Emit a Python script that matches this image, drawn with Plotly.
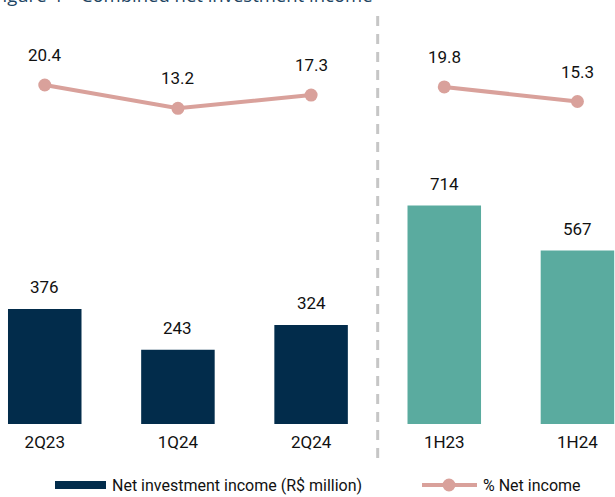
import plotly.graph_objects as go

# Periods and values
categories = ["2Q23", "1Q24", "2Q24", "1H23", "1H24"]
net_investment_income = [376, 243, 324, 714, 567]   # R$ million
pct_net_income = [20.4, 13.2, 17.3, 19.8, 15.3]      # % of net income
quarter_cats = categories[:3]
half_cats = categories[3:]

NAVY = "#022c4b"
TEAL = "#5aab9f"
PINK = "#d9a19b"
TEXT = "#111111"
FONT = "Liberation Sans Narrow, Arial Narrow, Roboto, Liberation Sans, sans-serif"

W, H = 615, 497
MB = 73                      # bottom margin below the bar baseline
PH = H - MB                  # plot-area height


def px_x(p):
    return p / W


def px_y(p):
    return 1 - p / PH


def label_font(size=17):
    return dict(family=FONT, size=size, color=TEXT)


fig = go.Figure()

fig.add_trace(go.Bar(
    x=quarter_cats, y=net_investment_income[:3],
    marker=dict(color=NAVY, line=dict(width=0)),
    width=0.552, showlegend=False, yaxis="y",
))
fig.add_trace(go.Bar(
    x=half_cats, y=net_investment_income[3:],
    marker=dict(color=TEAL, line=dict(width=0)),
    width=0.552, showlegend=False, yaxis="y",
))

# % of net income: quarters and half-years drawn as separate segments
fig.add_trace(go.Scatter(
    x=quarter_cats, y=pct_net_income[:3], mode="lines+markers",
    line=dict(color=PINK, width=4), marker=dict(size=13, color=PINK),
    yaxis="y2", showlegend=False,
))
fig.add_trace(go.Scatter(
    x=half_cats, y=pct_net_income[3:], mode="lines+markers",
    line=dict(color=PINK, width=4), marker=dict(size=13, color=PINK),
    yaxis="y2", showlegend=False,
))

annotations = []
for c, v in zip(categories, net_investment_income):
    annotations.append(dict(
        x=c, y=v, xref="x", yref="y", text=f"{v:d}", showarrow=False,
        yanchor="middle", yshift=22, font=label_font(),
    ))
for c, v in zip(categories, pct_net_income):
    annotations.append(dict(
        x=c, y=v, xref="x", yref="y2", text=f"{v:.1f}", showarrow=False,
        yanchor="middle", yshift=30, font=label_font(),
    ))

# Title line at the top edge
annotations.append(dict(
    x=0, y=1, xref="paper", yref="paper", xanchor="left", yanchor="bottom",
    xshift=-9, yshift=-9, showarrow=False,
    text="Figure 4 – Combined net investment income",
    font=dict(family="Open Sans, sans-serif", size=18.5, color="#1d4563"),
))

# Legend entries
legend_y = px_y(485)
annotations.append(dict(
    x=px_x(110), y=legend_y, xref="paper", yref="paper", xanchor="left",
    yanchor="middle", showarrow=False, text="Net investment income (R$ million)",
    font=label_font(16),
))
annotations.append(dict(
    x=px_x(481), y=legend_y, xref="paper", yref="paper", xanchor="left",
    yanchor="middle", showarrow=False, text="% Net income",
    font=label_font(16),
))

shapes = [
    # separator between quarters and half-years
    dict(type="line", xref="x", yref="paper", x0=2.5, x1=2.5,
         y0=px_y(458), y1=px_y(8),
         line=dict(color="#c6c6c6", width=3, dash="10px,8px")),
    # legend: bar swatch
    dict(type="rect", xref="paper", yref="paper",
         x0=px_x(55), x1=px_x(106), y0=px_y(489), y1=px_y(481),
         fillcolor=NAVY, line=dict(width=0)),
    # legend: line swatch with marker
    dict(type="line", xref="paper", yref="paper",
         x0=px_x(422), x1=px_x(477), y0=legend_y, y1=legend_y,
         line=dict(color=PINK, width=4)),
    dict(type="circle", xref="paper", yref="paper",
         x0=px_x(449 - 6.5), x1=px_x(449 + 6.5),
         y0=px_y(485 + 6.5), y1=px_y(485 - 6.5),
         fillcolor=PINK, line=dict(width=0)),
]

fig.update_layout(
    width=W, height=H,
    margin=dict(l=0, r=0, t=0, b=MB, pad=0),
    paper_bgcolor="white", plot_bgcolor="white",
    bargap=0.45,
    xaxis=dict(
        type="category", categoryorder="array", categoryarray=categories,
        range=[-0.336, 4.282], showgrid=False, zeroline=False, showline=False,
        ticks="", ticklabelstandoff=6,
        tickfont=label_font(),
    ),
    yaxis=dict(range=[0, 1386], visible=False, showgrid=False, zeroline=False),
    yaxis2=dict(range=[-84.23, 46.63], overlaying="y", side="right",
                visible=False, showgrid=False, zeroline=False),
    annotations=annotations,
    shapes=shapes,
    showlegend=False,
)

fig.write_html("out.html")
